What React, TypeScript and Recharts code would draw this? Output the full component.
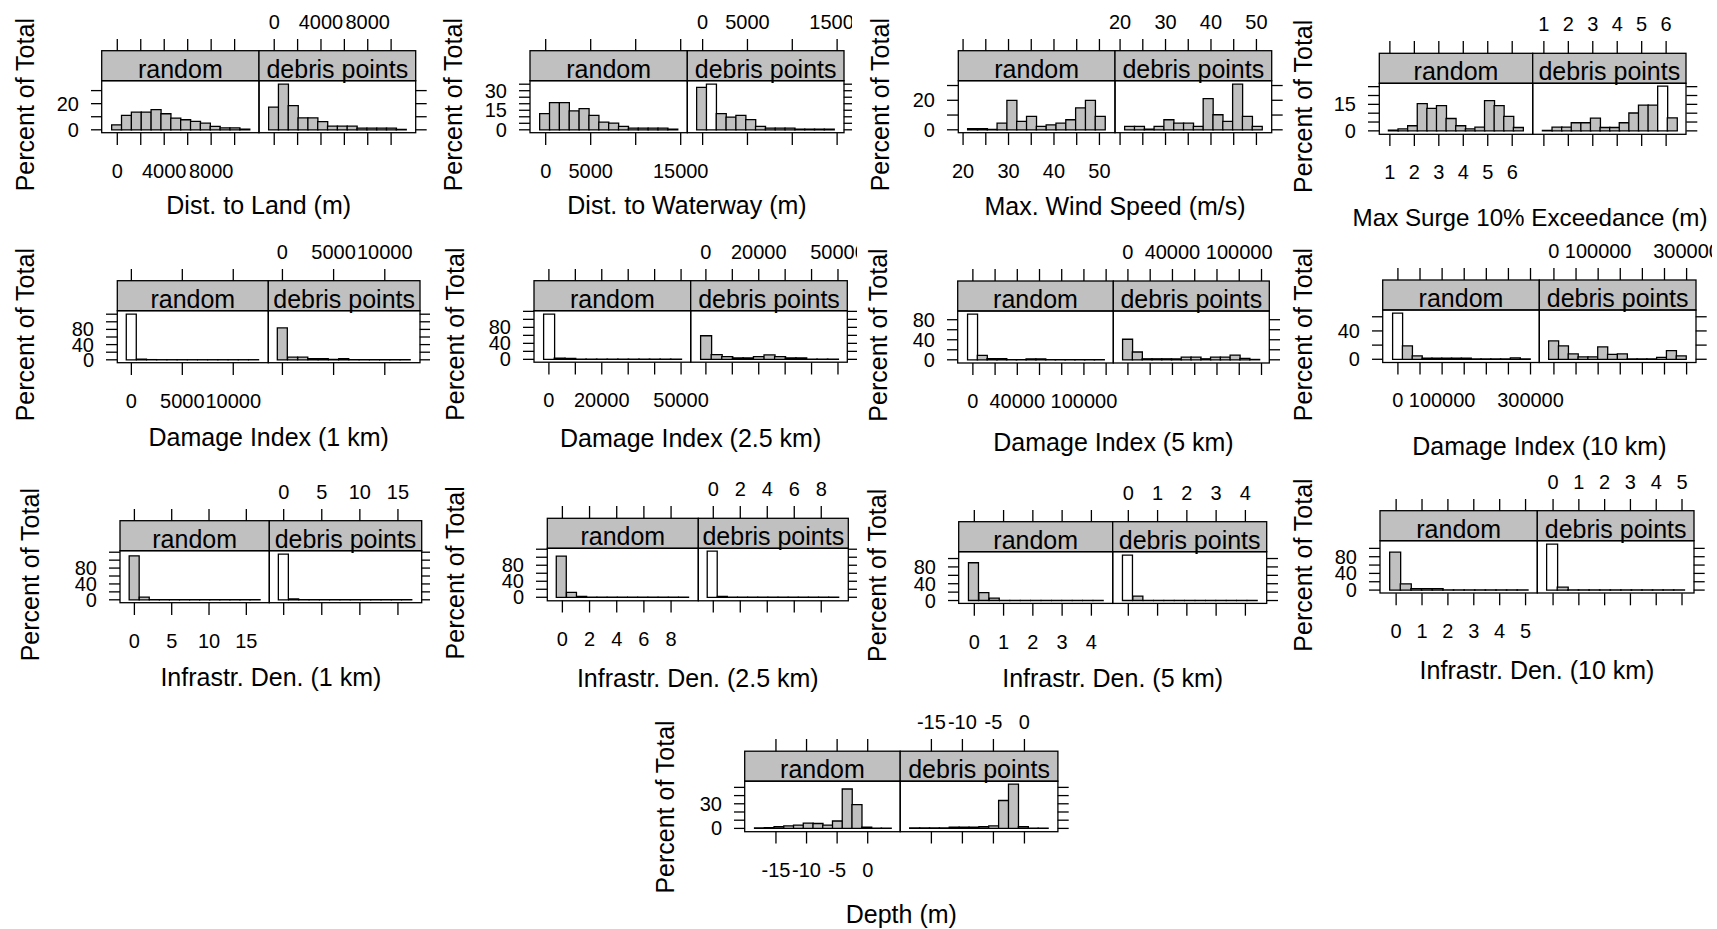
import { BarChart, Bar, XAxis, YAxis, Cell } from 'recharts';

const FONT = '"Liberation Sans", Arial, Helvetica, sans-serif';
const GREY = '#c0c0c0';
const LW = 1.3;
const STRIP_H = 30;
const PAD_T = 80;
const PAD_B = 60;
const PAD_Y = 100;
const PAD_SIDE = 60;

// Dist. to Land (m)
const landBreaks = [-480, 11280];
const landRandom = [3.8, 11, 13.6, 13.6, 15.4, 12.3, 9, 7.7, 6.4, 5.1, 2.6, 1.5, 1.5, 0.5];
const landDebris = [17.4, 34.9, 18.5, 9.2, 9.2, 6.2, 2.8, 2.8, 2.8, 1.3, 1.3, 1.3, 1.3, 0.3];
const landXTicks = [0, 2000, 4000, 6000, 8000, 10000];
const landXLabels = [0, 4000, 8000];
const landYTicks = [0, 10, 20, 30];
const landYLabels = [0, 20];

// Dist. to Waterway (m)
const wayBreaks = [-670, 14660];
const wayRandom = [12.4, 20.9, 20.9, 14.5, 16.3, 11.1, 5.9, 5.2, 2.6, 1.3, 1.3, 1.3, 1.3, 0.5];
const wayDebris = [32.6, 35, 12.4, 9.8, 11.1, 7.8, 2.6, 1.3, 1.3, 1.3, 0.5, 0.5, 0.5, 0.5];
const wayXTicks = [0, 5000, 10000, 15000];
const wayXLabels = [0, 5000, 15000];
const wayYTicks = [0, 5, 10, 15, 20, 25, 30, 35];
const wayYLabels = [0, 15, 30];

// Max. Wind Speed (m/s)
const windBreaks = [21, 51.24];
const windRandom = [0.8, 0.8, 0.3, 4.5, 20, 5.7, 9.1, 2.3, 3.4, 4.5, 6.8, 14.8, 20, 9.1];
const windDebris = [2.3, 2.3, 0.4, 2.3, 6.8, 4.5, 4.5, 2.3, 21.1, 10.2, 5.7, 30.9, 9.1, 2.3];
const windXTicks = [20, 25, 30, 35, 40, 45, 50];
const windXLabels = [20, 30, 40, 50];
const windYTicks = [0, 10, 20, 30];
const windYLabels = [0, 20];

// Max Surge 10% Exceedance (m)
const surgeBreaks = [0.94, 6.44];
const surgeRandom = [0.4, 1.1, 2.9, 15.4, 12.7, 14.3, 7, 2.9, 1.1, 2.1, 17.1, 14.3, 8.2, 1.9];
const surgeDebris = [0.3, 2.1, 2.1, 4.6, 4.6, 7.2, 1.9, 1.9, 4.6, 10.1, 14.6, 14.6, 25.3, 7.4];
const surgeXTicks = [1, 2, 3, 4, 5, 6];
const surgeXLabels = [1, 2, 3, 4, 5, 6];
const surgeYTicks = [0, 5, 10, 15, 20, 25];
const surgeYLabels = [0, 15];

// Damage Index (1 km)
const dmg1Breaks = [-500, 12500];
const dmg1Random = [120, 1.8, 0.5, 0.3, 0.3, 0.3, 0.3, 0.3, 0.3, 0.3, 0.3, 0.3, 0.3];
const dmg1Debris = [84, 7, 7, 3, 3, 1, 3, 0.5, 0.5, 0.5, 0.5, 0.5, 0.5];
const dmg1XTicks = [0, 5000, 10000];
const dmg1XLabels = [0, 5000, 10000];

// Damage Index (2.5 km)
const dmg25Breaks = [-2000, 50000];
const dmg25Random = [113, 3, 2.5, 0.5, 0.3, 0.3, 0.3, 0.3, 0.3, 0.3, 0.3, 0.3, 0.3];
const dmg25Debris = [59, 12, 7, 3.4, 3.4, 7, 11, 7, 3.4, 3.4, 0.5, 0.5, 0.5];
const dmg25XTicks = [0, 10000, 20000, 30000, 40000, 50000];
const dmg25XLabels = [0, 20000, 50000];

// Damage Index (5 km)
const dmg5Breaks = [-4800, 118120];
const dmg5Random = [91, 9, 2.5, 2.5, 0.5, 0.5, 2, 2, 0.5, 0.5, 0.5, 0.5, 0.5, 0.5];
const dmg5Debris = [41, 15.6, 2, 2, 2, 2, 5.4, 5.4, 2, 5.4, 5.4, 9.5, 2.7, 0.7];
const dmg5XTicks = [0, 20000, 40000, 60000, 80000, 100000, 120000];
const dmg5XLabels = [0, 40000, 100000];
const dmg5YTicks = [0, 20, 40, 60, 80];

// Damage Index (10 km)
const dmg10Breaks = [-12000, 298800];
const dmg10Random = [65, 18.8, 4.7, 1.5, 1.5, 1.5, 1.5, 1.5, 0.5, 0.5, 0.5, 0.5, 2, 0.5];
const dmg10Debris = [25.9, 18.8, 7.5, 3.3, 3.3, 17.4, 7, 7.5, 0.5, 0.5, 0.5, 2.8, 12.2, 4.7];
const dmg10XTicks = [0, 50000, 100000, 150000, 200000, 250000, 300000];
const dmg10XLabels = [0, 100000, 300000];
const dmg10YTicks = [0, 20, 40, 60];
const dmg10YLabels = [0, 40];

// Infrastr. Den. (1 km)
const inf1Breaks = [-0.7, 16.85];
const inf1Random = [111, 7, 0.5, 0.3, 0.3, 0.3, 0.3, 0.3, 0.3, 0.3, 0.3, 0.3, 0.3];
const inf1Debris = [115, 2, 0.5, 0.3, 0.3, 0.3, 0.3, 0.3, 0.3, 0.3, 0.3, 0.3, 0.3];
const inf1XTicks = [0, 5, 10, 15];

// Infrastr. Den. (2.5 km)
const inf25Breaks = [-0.45, 9.3];
const inf25Random = [103, 12, 2.5, 0.5, 0.3, 0.3, 0.3, 0.3, 0.3, 0.3, 0.3, 0.3, 0.3];
const inf25Debris = [115, 2, 0.3, 0.3, 0.3, 0.3, 0.3, 0.3, 0.3, 0.3, 0.3, 0.3, 0.3];
const inf25XTicks = [0, 2, 4, 6, 8];

// Infrastr. Den. (5 km)
const inf5Breaks = [-0.2, 4.415];
const inf5Random = [90, 19, 5.5, 0.5, 0.3, 0.3, 0.3, 0.3, 0.3, 0.3, 0.3, 0.3, 0.3];
const inf5Debris = [108, 10.5, 0.5, 0.3, 0.3, 0.3, 0.3, 0.3, 0.3, 0.3, 0.3, 0.3, 0.3];
const inf5XTicks = [0, 1, 2, 3, 4];

// Infrastr. Den. (10 km)
const inf10Breaks = [-0.25, 5.08];
const inf10Random = [91, 15, 3.5, 3.5, 3.5, 0.3, 0.3, 0.3, 0.3, 0.3, 0.3, 0.3, 0.3];
const inf10Debris = [110, 7, 0.3, 0.3, 0.3, 0.3, 0.3, 0.3, 0.3, 0.3, 0.3, 0.3, 0.3];
const inf10XTicks = [0, 1, 2, 3, 4, 5];

// Depth (m)
const depthBreaks = [-18.5, 3.8];
const depthRandom = [0.5, 1, 2, 3, 4, 6.5, 6, 4, 9, 48, 29, 1.5, 0.3, 0.3];
const depthDebris = [0.5, 0.5, 0.5, 0.5, 1.5, 1.5, 1.5, 2, 3, 34, 54, 2, 0.3, 0.3];
const depthXTicks = [-15, -10, -5, 0];
const depthYTicks = [0, 10, 20, 30, 40, 50];
const depthYLabels = [0, 30];

const pctTicks120 = [0, 20, 40, 60, 80, 100, 120];
const pctTicks100 = [0, 20, 40, 60, 80, 100];
const pctLabels = [0, 40, 80];

interface Box {
  clipL: number; clipR: number;
  L: number; M: number; R: number;
  ST: number; dataH: number;
  xTitleY: number; yTitleX: number; yTitleY?: number;
  titleSize?: number; titleX?: number;
}

interface PanelDef {
  title: string;
  breaks: number[];
  random: number[];
  debris: number[];
  xTicks: number[];
  xLabels: number[];
  yTicks: number[];
  yLabels: number[];
  openRandom?: number[];
  openDebris?: number[];
  box: Box;
}

const panels: PanelDef[] = [
  { title: 'Dist. to Land (m)', breaks: landBreaks, random: landRandom, debris: landDebris,
    xTicks: landXTicks, xLabels: landXLabels, yTicks: landYTicks, yLabels: landYLabels,
    box: { clipL: 0, clipR: 430, L: 101.7, M: 259, R: 415.7, ST: 50.7, dataH: 52, xTitleY: 205, yTitleX: 25 } },
  { title: 'Dist. to Waterway (m)', breaks: wayBreaks, random: wayRandom, debris: wayDebris,
    xTicks: wayXTicks, xLabels: wayXLabels, yTicks: wayYTicks, yLabels: wayYLabels, openDebris: [1],
    box: { clipL: 430, clipR: 852, L: 530, M: 687.3, R: 844, ST: 50.7, dataH: 52, xTitleY: 205, yTitleX: 453 } },
  { title: 'Max. Wind Speed (m/s)', breaks: windBreaks, random: windRandom, debris: windDebris,
    xTicks: windXTicks, xLabels: windXLabels, yTicks: windYTicks, yLabels: windYLabels,
    box: { clipL: 860, clipR: 1288, L: 958.3, M: 1115, R: 1271.7, ST: 50.7, dataH: 52, xTitleY: 206, yTitleX: 880 } },
  { title: 'Max Surge 10% Exceedance (m)', breaks: surgeBreaks, random: surgeRandom, debris: surgeDebris,
    xTicks: surgeXTicks, xLabels: surgeXLabels, yTicks: surgeYTicks, yLabels: surgeYLabels, openDebris: [12],
    box: { clipL: 1290, clipR: 1717, L: 1379.3, M: 1532.7, R: 1686, ST: 53.3, dataH: 51, xTitleY: 216.7, yTitleX: 1303, titleSize: 24.2, titleX: 1530 } },
  { title: 'Damage Index (1 km)', breaks: dmg1Breaks, random: dmg1Random, debris: dmg1Debris,
    xTicks: dmg1XTicks, xLabels: dmg1XLabels, yTicks: pctTicks120, yLabels: pctLabels, openRandom: [0],
    box: { clipL: 0, clipR: 430, L: 117.3, M: 268.3, R: 420, ST: 280.7, dataH: 52, xTitleY: 436.7, yTitleX: 25 } },
  { title: 'Damage Index (2.5 km)', breaks: dmg25Breaks, random: dmg25Random, debris: dmg25Debris,
    xTicks: dmg25XTicks, xLabels: dmg25XLabels, yTicks: pctTicks120, yLabels: pctLabels, openRandom: [0],
    box: { clipL: 430, clipR: 857, L: 534, M: 690.7, R: 847.3, ST: 280.7, dataH: 51.5, xTitleY: 438.3, yTitleX: 455 } },
  { title: 'Damage Index (5 km)', breaks: dmg5Breaks, random: dmg5Random, debris: dmg5Debris,
    xTicks: dmg5XTicks, xLabels: dmg5XLabels, yTicks: dmg5YTicks, yLabels: pctLabels, openRandom: [0],
    box: { clipL: 860, clipR: 1288, L: 957.7, M: 1113.3, R: 1269.3, ST: 281, dataH: 52, xTitleY: 441.7, yTitleX: 878 } },
  { title: 'Damage Index (10 km)', breaks: dmg10Breaks, random: dmg10Random, debris: dmg10Debris,
    xTicks: dmg10XTicks, xLabels: dmg10XLabels, yTicks: dmg10YTicks, yLabels: dmg10YLabels, openRandom: [0],
    box: { clipL: 1290, clipR: 1712, L: 1382.7, M: 1539.3, R: 1696, ST: 280, dataH: 52.5, xTitleY: 446, yTitleX: 1303 } },
  { title: 'Infrastr. Den. (1 km)', breaks: inf1Breaks, random: inf1Random, debris: inf1Debris,
    xTicks: inf1XTicks, xLabels: inf1XTicks, yTicks: pctTicks120, yLabels: pctLabels, openDebris: [0],
    box: { clipL: 0, clipR: 430, L: 120, M: 269.3, R: 421.7, ST: 520.7, dataH: 52, xTitleY: 676.7, yTitleX: 30 } },
  { title: 'Infrastr. Den. (2.5 km)', breaks: inf25Breaks, random: inf25Random, debris: inf25Debris,
    xTicks: inf25XTicks, xLabels: inf25XTicks, yTicks: pctTicks120, yLabels: pctLabels, openDebris: [0],
    box: { clipL: 430, clipR: 857, L: 547.3, M: 698.3, R: 848.3, ST: 518.3, dataH: 52.5, xTitleY: 678.3, yTitleX: 455 } },
  { title: 'Infrastr. Den. (5 km)', breaks: inf5Breaks, random: inf5Random, debris: inf5Debris,
    xTicks: inf5XTicks, xLabels: inf5XTicks, yTicks: pctTicks100, yLabels: pctLabels, openDebris: [0],
    box: { clipL: 860, clipR: 1288, L: 958.7, M: 1112.7, R: 1266.7, ST: 521.7, dataH: 51.7, xTitleY: 678.3, yTitleX: 877 } },
  { title: 'Infrastr. Den. (10 km)', breaks: inf10Breaks, random: inf10Random, debris: inf10Debris,
    xTicks: inf10XTicks, xLabels: inf10XTicks, yTicks: pctTicks100, yLabels: pctLabels, openDebris: [0],
    box: { clipL: 1290, clipR: 1717, L: 1380, M: 1537.3, R: 1694, ST: 510.7, dataH: 52.3, xTitleY: 670, yTitleX: 1303 } },
  { title: 'Depth (m)', breaks: depthBreaks, random: depthRandom, debris: depthDebris,
    xTicks: depthXTicks, xLabels: depthXTicks, yTicks: depthYTicks, yLabels: depthYLabels,
    box: { clipL: 630, clipR: 1090, L: 744.7, M: 900.2, R: 1057.9, ST: 751.2, dataH: 50.5, xTitleY: 914.4, yTitleX: 664.7, yTitleY: 807 } },
];

// equal-width histogram bins between the two break ends
function binRows(breaks: number[], vals: number[]) {
  const step = (breaks[1] - breaks[0]) / vals.length;
  return vals.map((v, i) => ({ mid: breaks[0] + step * (i + 0.5), pct: v }));
}

function xTick(labels: number[] | null, baseY: number) {
  return (props: any) => {
    const { x, payload } = props;
    if (!labels || !labels.includes(payload.value)) return <g />;
    return (
      <text x={x} y={baseY} textAnchor="middle" fontSize={20} fontFamily={FONT} fill="#000">
        {String(payload.value)}
      </text>
    );
  };
}

function yTick(labels: number[] | null, textX: number) {
  return (props: any) => {
    const { y, payload } = props;
    if (!labels || !labels.includes(payload.value)) return <g />;
    return (
      <text x={textX} y={y + 7} textAnchor="end" fontSize={20} fontFamily={FONT} fill="#000">
        {String(payload.value)}
      </text>
    );
  };
}

interface SubProps {
  p: PanelDef;
  isLeft: boolean;
  vals: number[];
  open: number[];
  subL: number;
  subW: number;
  xDomain: number[];
  yDomain: number[];
}

function SubChart({ p, isLeft, vals, open, subL, subW, xDomain, yDomain }: SubProps) {
  const { clipL, ST, dataH } = p.box;
  const DT = ST + STRIP_H;
  const rows = binRows(p.breaks, vals);
  const w = PAD_Y + subW + PAD_SIDE;
  const h = PAD_T + dataH + PAD_B;
  const left = (isLeft ? subL - PAD_Y : subL - PAD_SIDE) - clipL;
  const tickLine = { stroke: '#000', strokeWidth: LW };
  return (
    <div style={{ position: 'absolute', left, top: DT - PAD_T, width: w, height: h }}>
      <BarChart
        width={w}
        height={h}
        data={rows}
        margin={isLeft ? { top: 0, right: PAD_SIDE, bottom: 0, left: 0 } : { top: 0, right: 0, bottom: 0, left: PAD_SIDE }}
        barCategoryGap={0}
        barGap={0}
      >
        <XAxis
          xAxisId="b"
          dataKey="mid"
          type="number"
          domain={xDomain}
          allowDataOverflow
          ticks={p.xTicks}
          interval={0}
          height={PAD_B}
          tickSize={12}
          axisLine={false}
          tickLine={tickLine}
          tick={xTick(isLeft ? p.xLabels : null, PAD_T + dataH + 45)}
        />
        <XAxis
          xAxisId="t"
          dataKey="mid"
          orientation="top"
          type="number"
          domain={xDomain}
          allowDataOverflow
          ticks={p.xTicks}
          interval={0}
          height={PAD_T}
          tickSize={42}
          axisLine={false}
          tickLine={tickLine}
          tick={xTick(isLeft ? null : p.xLabels, PAD_T - 52)}
        />
        <YAxis
          yAxisId="y"
          orientation={isLeft ? 'left' : 'right'}
          width={PAD_Y}
          type="number"
          domain={yDomain}
          allowDataOverflow
          ticks={p.yTicks}
          interval={0}
          tickSize={11}
          axisLine={false}
          tickLine={tickLine}
          tick={yTick(isLeft ? p.yLabels : null, PAD_Y - 23)}
        />
        <Bar xAxisId="b" yAxisId="y" dataKey="pct" fill={GREY} stroke="#000" strokeWidth={LW} isAnimationActive={false}>
          {rows.map((_, i) => (
            <Cell key={i} fill={open.includes(i) ? '#ffffff' : GREY} />
          ))}
        </Bar>
      </BarChart>
    </div>
  );
}

function HistPanel({ p }: { p: PanelDef }) {
  const { clipL, clipR, L, M, R, ST, dataH, xTitleY, yTitleX } = p.box;
  const DT = ST + STRIP_H;
  const DB = DT + dataH;
  const yTitleY = p.box.yTitleY ?? DB - 28;
  const titleX = p.box.titleX ?? (L + R) / 2;
  const span = p.breaks[1] - p.breaks[0];
  const xDomain = [p.breaks[0] - 0.07 * span, p.breaks[1] + 0.07 * span];
  const ymax = Math.max(...p.random, ...p.debris);
  const yDomain = [-0.07 * ymax, 1.07 * ymax];
  const tileW = clipR - clipL;
  const subs = [
    { x: L, w: M - L, name: 'random' },
    { x: M, w: R - M, name: 'debris points' },
  ];
  return (
    <div style={{ position: 'absolute', left: clipL, top: 0, width: tileW, height: 929, overflow: 'hidden' }}>
      <SubChart p={p} isLeft vals={p.random} open={p.openRandom ?? []} subL={L} subW={M - L} xDomain={xDomain} yDomain={yDomain} />
      <SubChart p={p} isLeft={false} vals={p.debris} open={p.openDebris ?? []} subL={M} subW={R - M} xDomain={xDomain} yDomain={yDomain} />
      <svg width={tileW} height={929} style={{ position: 'absolute', left: 0, top: 0, pointerEvents: 'none' }}>
        {subs.map((s) => (
          <g key={s.name}>
            <rect x={s.x - clipL} y={ST} width={s.w} height={STRIP_H} fill={GREY} stroke="#000" strokeWidth={LW} />
            <text x={s.x - clipL + s.w / 2} y={ST + 27} textAnchor="middle" fontSize={25} fontFamily={FONT} fill="#000">
              {s.name}
            </text>
            <rect x={s.x - clipL} y={DT} width={s.w} height={dataH} fill="none" stroke="#000" strokeWidth={LW} />
          </g>
        ))}
        <text x={titleX - clipL} y={xTitleY + 9} textAnchor="middle" fontSize={p.box.titleSize ?? 25} fontFamily={FONT} fill="#000">
          {p.title}
        </text>
        <text
          x={yTitleX - clipL + 9}
          y={yTitleY}
          transform={`rotate(-90 ${yTitleX - clipL + 9} ${yTitleY})`}
          textAnchor="middle"
          fontSize={25}
          fontFamily={FONT}
          fill="#000"
        >
          Percent of Total
        </text>
      </svg>
    </div>
  );
}

export default function App() {
  return (
    <div style={{ position: 'absolute', left: 0, top: 0, width: 1717, height: 929, background: '#fff', overflow: 'hidden' }}>
      {panels.map((p) => (
        <HistPanel key={p.title} p={p} />
      ))}
    </div>
  );
}
